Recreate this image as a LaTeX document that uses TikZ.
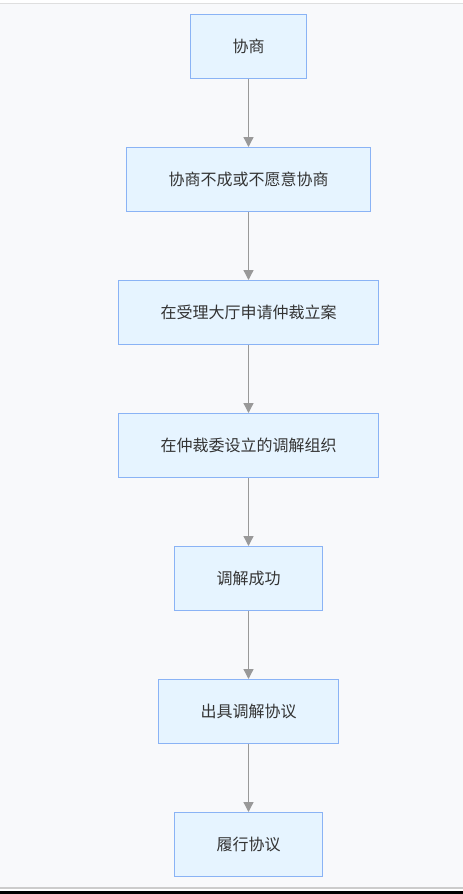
\documentclass[tikz,border=0pt]{standalone}
\usepackage{fontspec}
\setmainfont{Noto Sans CJK SC}
\usetikzlibrary{positioning,arrows.meta}
\definecolor{bgpage}{HTML}{F8F9FB}
\definecolor{boxfill}{HTML}{E6F4FF}
\definecolor{boxline}{HTML}{8AB3F5}
\definecolor{arrowgray}{HTML}{999999}
\definecolor{textgray}{HTML}{333333}

\begin{document}
\begin{tikzpicture}[
    x=1pt, y=1pt,
    stepbox/.style={rectangle, draw=boxline, fill=boxfill, line width=1.3pt, minimum height=63.7pt, inner xsep=42pt, text=textgray, font=\fontsize{16}{19}\selectfont, text centered},
    flow/.style={draw=arrowgray, line width=1.3pt, -{Triangle[length=10pt,width=10pt]}}
  ]
  % Page background and frame lines
  \useasboundingbox (0,0) rectangle (463,-894);
  \fill[white] (0,0) rectangle (463,-894);
  \fill[bgpage] (0,-3) rectangle (463,-888);
  \draw[gray!25, line width=0.8pt] (0,-3) -- (463,-3);
  \draw[gray!40, line width=1.5pt] (0,-888) -- (463,-888);
  \fill[black] (0,-891) rectangle (463,-894);

  % Main flow blocks
  \node (xieshang) [stepbox] at (248.5,-46.5) {协商};
  \node (bucheng) [stepbox, below=68pt of xieshang] {协商不成或不愿意协商};
  \node (liyan) [stepbox, below=68pt of bucheng] {在受理大厅申请仲裁立案};
  \node (tiaojie) [stepbox, below=68pt of liyan] {在仲裁委设立的调解组织};
  \node (chenggong) [stepbox, below=68pt of tiaojie] {调解成功};
  \node (xieyi) [stepbox, below=68pt of chenggong] {出具调解协议};
  \node (lvxing) [stepbox, below=68pt of xieyi] {履行协议};

  % Connecting arrows
  \draw [flow] (xieshang) -- (bucheng);
  \draw [flow] (bucheng) -- (liyan);
  \draw [flow] (liyan) -- (tiaojie);
  \draw [flow] (tiaojie) -- (chenggong);
  \draw [flow] (chenggong) -- (xieyi);
  \draw [flow] (xieyi) -- (lvxing);
\end{tikzpicture}
\end{document}
